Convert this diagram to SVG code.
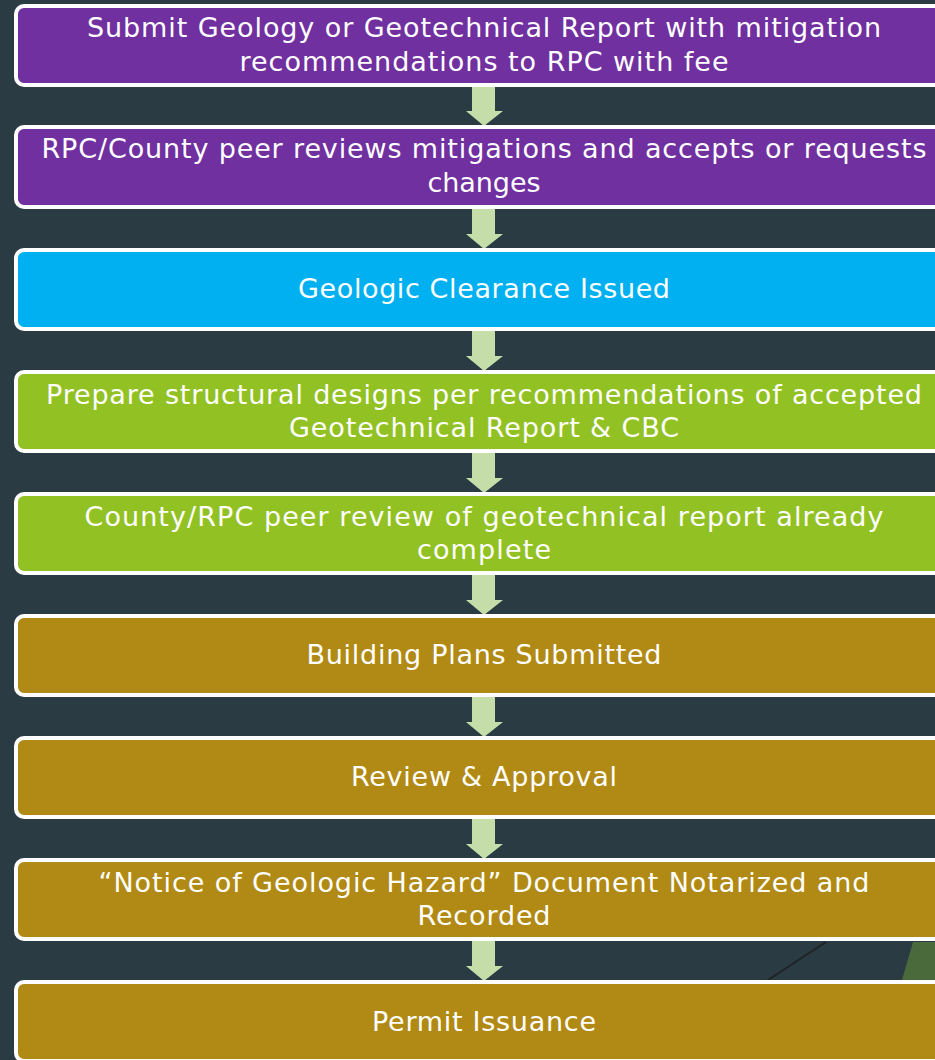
<svg xmlns="http://www.w3.org/2000/svg" width="935" height="1060" viewBox="0 0 935 1060">
<style>
.box{stroke:#ffffff;stroke-width:4}
.purple{fill:#7030a0}
.cyan{fill:#00b0f0}
.green{fill:#92c123}
.gold{fill:#b08a14}
.t{font-family:"DejaVu Sans","Liberation Sans",sans-serif;font-size:27px;fill:#ffffff;text-anchor:middle}
.arrow{fill:#c5dea9}
</style>
<rect x="0" y="0" width="935" height="1060" fill="#2b3b43"/>
<g id="decor">
<line x1="768" y1="980" x2="826" y2="942" stroke="#1e2326" stroke-width="2"/>
<polygon points="902,980 913,942 935,942 935,980" fill="#4a6a3b"/>
</g>
<g id="connectors">
<polygon class="arrow" points="472,86 495,86 495,111 503,111 484,126 466,111 472,111"/>
<polygon class="arrow" points="472,207 495,207 495,234 503,234 484,249 466,234 472,234"/>
<polygon class="arrow" points="472,330 495,330 495,356 503,356 484,371 466,356 472,356"/>
<polygon class="arrow" points="472,452 495,452 495,478 503,478 484,493 466,478 472,478"/>
<polygon class="arrow" points="472,574 495,574 495,600 503,600 484,615 466,600 472,600"/>
<polygon class="arrow" points="472,696 495,696 495,722 503,722 484,737 466,722 472,722"/>
<polygon class="arrow" points="472,818 495,818 495,844 503,844 484,859 466,844 472,844"/>
<polygon class="arrow" points="472,940 495,940 495,966 503,966 484,981 466,966 472,966"/>
</g>
<g id="n1"><rect class="box purple" x="16" y="6" width="940" height="79" rx="8"/>
<text class="t" x="484" y="37" textLength="794" lengthAdjust="spacing">Submit Geology or Geotechnical Report with mitigation</text>
<text class="t" x="484" y="71" textLength="489" lengthAdjust="spacing">recommendations to RPC with fee</text></g>
<g id="n2"><rect class="box purple" x="16" y="127" width="940" height="80" rx="8"/>
<text class="t" x="484" y="158" textLength="885" lengthAdjust="spacing">RPC/County peer reviews mitigations and accepts or requests</text>
<text class="t" x="484" y="192" textLength="113" lengthAdjust="spacing">changes</text></g>
<g id="n3"><rect class="box cyan" x="16" y="250" width="940" height="79" rx="8"/>
<text class="t" x="484" y="298" textLength="372" lengthAdjust="spacing">Geologic Clearance Issued</text></g>
<g id="n4"><rect class="box green" x="16" y="372" width="940" height="79" rx="8"/>
<text class="t" x="484" y="404" textLength="876" lengthAdjust="spacing">Prepare structural designs per recommendations of accepted</text>
<text class="t" x="484" y="437" textLength="390" lengthAdjust="spacing">Geotechnical Report &amp; CBC</text></g>
<g id="n5"><rect class="box green" x="16" y="494" width="940" height="79" rx="8"/>
<text class="t" x="484" y="526" textLength="799" lengthAdjust="spacing">County/RPC peer review of geotechnical report already</text>
<text class="t" x="484" y="559" textLength="134" lengthAdjust="spacing">complete</text></g>
<g id="n6"><rect class="box gold" x="16" y="616" width="940" height="79" rx="8"/>
<text class="t" x="484" y="664" textLength="355" lengthAdjust="spacing">Building Plans Submitted</text></g>
<g id="n7"><rect class="box gold" x="16" y="738" width="940" height="79" rx="8"/>
<text class="t" x="484" y="786" textLength="266" lengthAdjust="spacing">Review &amp; Approval</text></g>
<g id="n8"><rect class="box gold" x="16" y="860" width="940" height="79" rx="8"/>
<text class="t" x="484" y="892" textLength="771" lengthAdjust="spacing">“Notice of Geologic Hazard” Document Notarized and</text>
<text class="t" x="484" y="925" textLength="133" lengthAdjust="spacing">Recorded</text></g>
<g id="n9"><rect class="box gold" x="16" y="982" width="940" height="79" rx="8"/>
<text class="t" x="484" y="1031" textLength="224" lengthAdjust="spacing">Permit Issuance</text></g>
</svg>
